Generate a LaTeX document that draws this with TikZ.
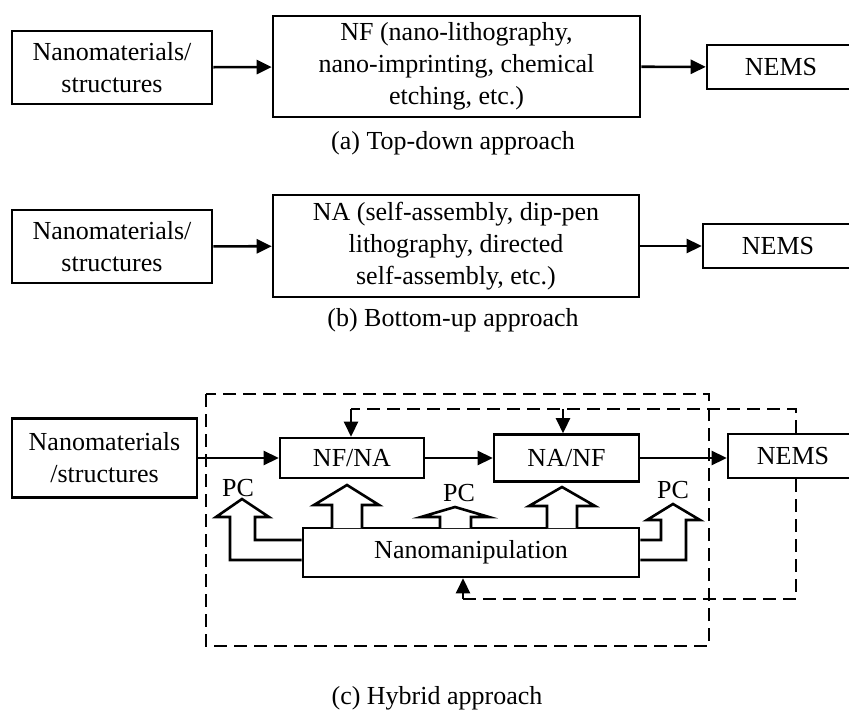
\documentclass[tikz,border=0pt]{standalone}
\usepackage{fontspec}
\setmainfont{Liberation Serif}
\usetikzlibrary{arrows.meta}
\begin{document}
\begin{tikzpicture}[x=1pt,y=-1pt,
  txt/.style={font=\fontsize{26}{32}\selectfont},
  box/.style={txt, draw, line width=2.6pt, fill=white, inner sep=0pt, align=center},
  lbl/.style={txt, inner sep=0pt},
  link/.style={line width=2.6pt, -{Triangle[length=15pt,width=14pt]}},
  fb/.style={line width=2.6pt, dash pattern=on 13pt off 7pt},
  blockarrow/.style={line width=2.6pt, fill=white, line join=miter},
]
\clip (0,0) rectangle (849,711);
\fill[white] (0,0) rectangle (849,711);

% ---------- (a) top-down ----------
\node[box, minimum width=200pt, minimum height=73pt] (a1) at (112,67.5)
  {Nanomaterials/\\structures};
\node[box, minimum width=367pt, minimum height=101pt] (a2) at (456.5,66.5)
  {NF (nano-lithography,\\nano-imprinting, chemical\\etching, etc.)};
\node[box, minimum width=148pt, minimum height=44pt] (a3) at (781,67) {NEMS};
\draw[link] (a1) -- (a2);
\draw[link] (a2) -- (a3);
\node[lbl] (capa) at (453,143) {(a) Top-down approach};

% ---------- (b) bottom-up ----------
\node[box, minimum width=200pt, minimum height=73pt] (b1) at (112,246.5)
  {Nanomaterials/\\structures};
\node[box, minimum width=366pt, minimum height=102pt] (b2) at (456,246)
  {NA (self-assembly, dip-pen\\lithography, directed\\self-assembly, etc.)};
\node[box, minimum width=150pt, minimum height=44pt] (b3) at (778,246) {NEMS};
\draw[link] (b1) -- (b2);
\draw[link] (b2) -- (b3);
\node[lbl] (capb) at (453,320) {(b) Bottom-up approach};

% ---------- (c) hybrid ----------
\draw[fb] (206,394) rectangle (709,646);

\node[box, minimum width=185pt, minimum height=79pt] (c1) at (104.5,458)
  {Nanomaterials\\/structures};
\node[box, minimum width=144pt, minimum height=40pt] (nfna) at (352,458) {NF/NA};
\node[box, minimum width=145pt, minimum height=47pt] (nanf) at (566.5,458) {NA/NF};
\node[box, minimum width=130pt, minimum height=44pt] (nemsc) at (793,456) {NEMS};
\node[box, minimum width=336pt, minimum height=49pt] (nano) at (471,552.5) {Nanomanipulation};

\draw[link] (c1.east |- nfna.west) -- (nfna.west);
\draw[link] (nfna) -- (nanf.west |- nfna.east);
\draw[link] (nanf.east) -- (nanf.east -| nemsc.west);

% feedback from the output back to the stages
\coordinate (fbT) at (796,409);
\coordinate (fbL) at (351,409);
\coordinate (fbM) at (563,409);
\coordinate (fbB) at (796,599);
\coordinate (fbN) at (463,599);
\draw[fb] (nemsc.north -| fbT) -- (fbT) -- (fbL);
\draw[link] (fbL) -- (fbL |- nfna.north);
\draw[link] (fbM) -- (fbM |- nanf.north);
\draw[fb] (nemsc.south -| fbB) -- (fbB) -- (fbN);
\draw[link] (fbN) -- (fbN |- nano.south);

% hollow block arrows rising from the manipulation stage
\draw[blockarrow] (332,528) -- (332,505) -- (314,505) -- (347,485) -- (379,505)
  -- (362,505) -- (362,528);
\draw[blockarrow] (440,528) -- (440,517) -- (421,517) -- (455,507) -- (489,517)
  -- (471,517) -- (471,528);
\draw[blockarrow] (547,528) -- (547,506) -- (529,506) -- (562,487) -- (595,506)
  -- (577,506) -- (577,528);
\draw[blockarrow] (nano.west |- 0,560) -- (230,560) -- (230,517) -- (216,517)
  -- (242,499) -- (269,517) -- (255,517) -- (255,540) -- (nano.west |- 0,540);
\draw[blockarrow] (nano.east |- 0,540) -- (661,540) -- (661,520) -- (647,520)
  -- (673,504) -- (700,520) -- (686,520) -- (686,560) -- (nano.east |- 0,560);

\node[lbl] (pc1) at (238,488) {PC};
\node[lbl] (pc2) at (459,493) {PC};
\node[lbl] (pc3) at (673,490) {PC};

\node[lbl] (capc) at (437,698) {(c) Hybrid approach};
\end{tikzpicture}
\end{document}
